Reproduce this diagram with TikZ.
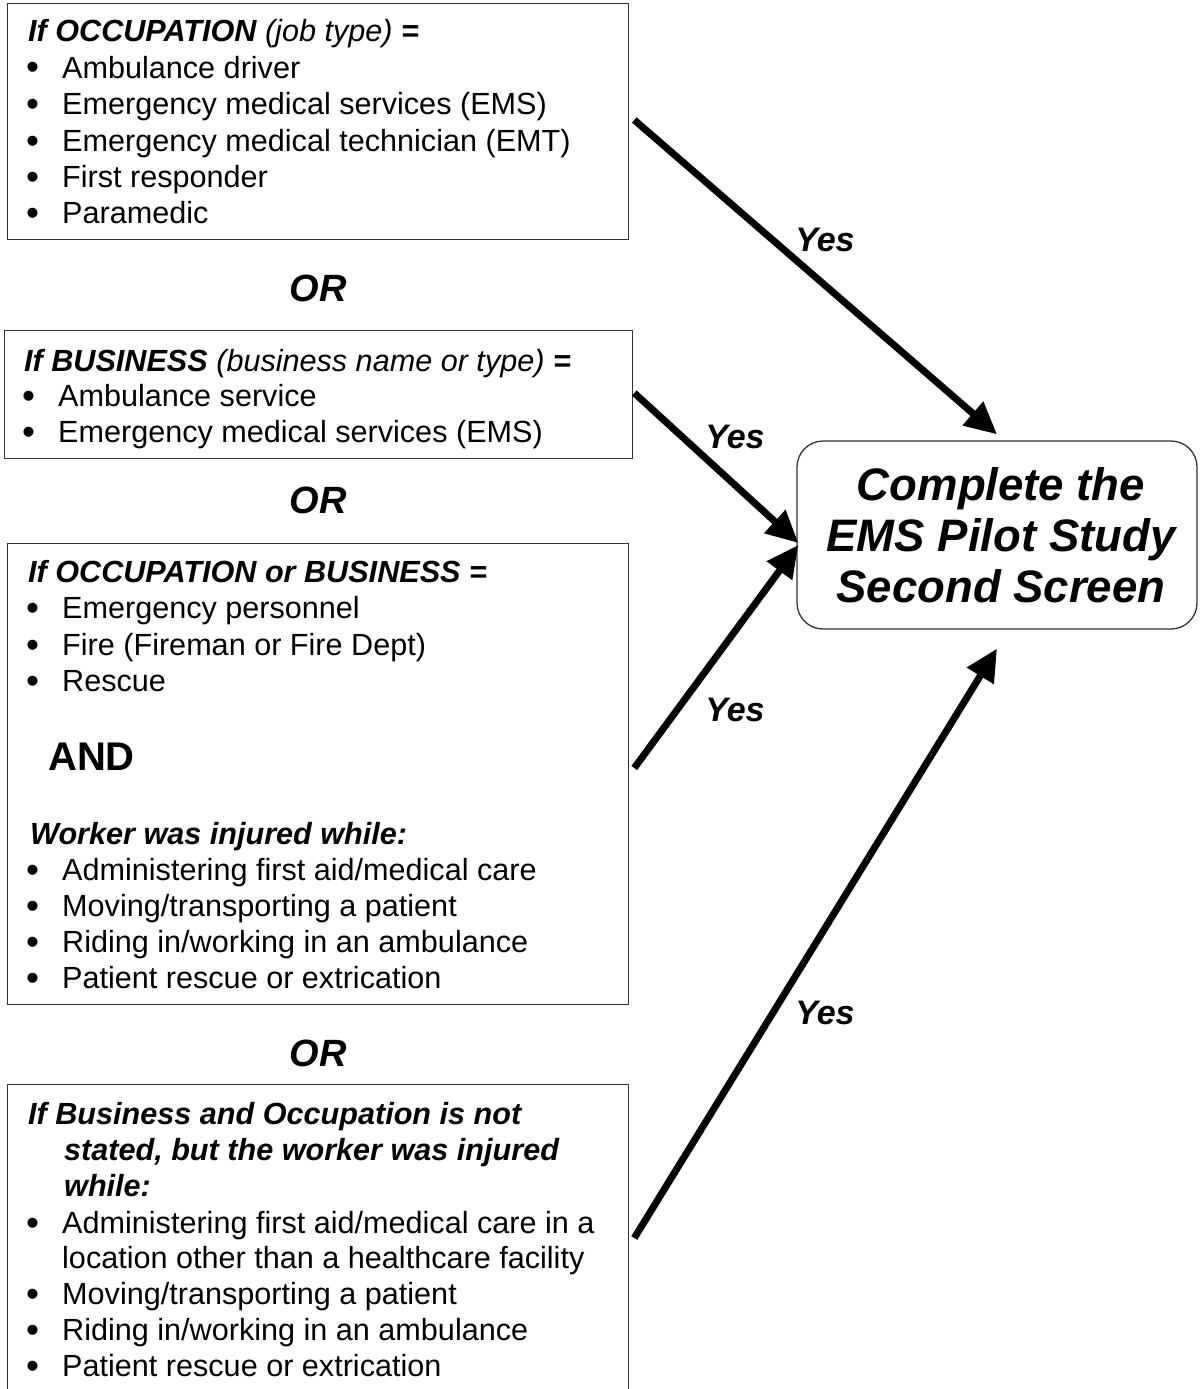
\documentclass[tikz,border=0pt]{standalone}
\usepackage{fontspec}
\setmainfont{Liberation Sans}
\usetikzlibrary{arrows.meta}
\begin{document}
\begin{tikzpicture}[x=1pt,y=-1pt,
  box/.style={draw=black!80, line width=1.3pt, inner sep=0pt, anchor=north west},
  txt/.style={anchor=base west, inner sep=0pt, font=\fontsize{30.6}{36}\selectfont},
  bul/.style={anchor=base west, inner sep=0pt, font=\fontsize{37}{37}\selectfont},
  hd/.style={anchor=base west, inner sep=0pt, font=\fontsize{30.6}{36}\selectfont\bfseries\itshape},
  orlbl/.style={inner sep=0pt, font=\fontsize{38}{40}\selectfont\bfseries\itshape},
  yeslbl/.style={inner sep=0pt, font=\fontsize{34}{36}\selectfont\bfseries\itshape},
  arr/.style={line width=7pt, -{Triangle[length=32pt,width=30pt]}}
]
\useasboundingbox (0,0) rectangle (1199,1389);
\begin{scope}
\clip (0,0) rectangle (1199,1389);
% boxes
\node[box, minimum width=621pt, minimum height=236pt] (b1) at (7,3) {};
\node[box, minimum width=628pt, minimum height=128pt] (b2) at (4,330) {};
\node[box, minimum width=621pt, minimum height=461pt] (b3) at (7,543) {};
\node[box, minimum width=621pt, minimum height=320pt] (b4) at (7,1084) {};
\node[draw=black!80, line width=1.3pt, rounded corners=26pt, minimum width=400pt, minimum height=188pt,
      align=center, font=\fontsize{45.5}{51}\selectfont\bfseries\itshape] (t) at (997,535)
      {\hspace*{8pt}Complete the\\\hspace*{8pt}EMS Pilot Study\\\hspace*{8pt}Second Screen};
\end{scope}

% box 1
\node[hd] (h1) at (28,42) {If OCCUPATION \textmd{(job type)} =};
\node[bul] (p11) at (26,80) {•}; \node[txt] (t11) at (62,78) {Ambulance driver};
\node[bul] (p12) at (26,116) {•}; \node[txt] (t12) at (62,114) {Emergency medical services (EMS)};
\node[bul] (p13) at (26,153) {•}; \node[txt] (t13) at (62,151) {Emergency medical technician (EMT)};
\node[bul] (p14) at (26,189) {•}; \node[txt] (t14) at (62,187) {First responder};
\node[bul] (p15) at (26,225) {•}; \node[txt] (t15) at (62,223) {Paramedic};

\node[orlbl] (or1) at (318,288) {OR};

% box 2
\node[hd] (h2) at (24,371) {If BUSINESS \textmd{(business name or type)} =};
\node[bul] (p21) at (22,408) {•}; \node[txt] (t21) at (58,406) {Ambulance service};
\node[bul] (p22) at (22,444) {•}; \node[txt] (t22) at (58,442) {Emergency medical services (EMS)};

\node[orlbl] (or2) at (318,500) {OR};

% box 3
\node[hd] (h3) at (28,582) {If OCCUPATION or BUSINESS =};
\node[bul] (p31) at (26,620) {•}; \node[txt] (t31) at (62,618) {Emergency personnel};
\node[bul] (p32) at (26,657) {•}; \node[txt] (t32) at (62,655) {Fire (Fireman or Fire Dept)};
\node[bul] (p33) at (26,693) {•}; \node[txt] (t33) at (62,691) {Rescue};
\node[anchor=base west, inner sep=0pt, font=\fontsize{40}{42}\selectfont\bfseries] (and) at (48,770) {AND};
\node[hd] (w3) at (30,844) {Worker was injured while:};
\node[bul] (p34) at (26,882) {•}; \node[txt] (t34) at (62,880) {Administering first aid/medical care};
\node[bul] (p35) at (26,918) {•}; \node[txt] (t35) at (62,916) {Moving/transporting a patient};
\node[bul] (p36) at (26,954) {•}; \node[txt] (t36) at (62,952) {Riding in/working in an ambulance};
\node[bul] (p37) at (26,990) {•}; \node[txt] (t37) at (62,988) {Patient rescue or extrication};

\node[orlbl] (or3) at (318,1053) {OR};

% box 4
\node[hd] (h41) at (28,1124) {If Business and Occupation is not};
\node[hd] (h42) at (64,1160) {stated, but the worker was injured};
\node[hd] (h43) at (64,1196) {while:};
\node[bul] (p41) at (26,1235) {•}; \node[txt] (t41) at (62,1233) {Administering first aid/medical care in a};
\node[txt] (t41b) at (62,1268) {location other than a healthcare facility};
\node[bul] (p42) at (26,1306) {•}; \node[txt] (t42) at (62,1304) {Moving/transporting a patient};
\node[bul] (p43) at (26,1342) {•}; \node[txt] (t43) at (62,1340) {Riding in/working in an ambulance};
\node[bul] (p44) at (26,1378) {•}; \node[txt] (t44) at (62,1376) {Patient rescue or extrication};

% arrows
\draw[arr] ([shift={(5,117)}]b1.north east) -- ([shift={(0,-6)}]t.north);
\draw[arr] ([shift={(1,63)}]b2.north east) -- ([shift={(2,8)}]t.west);
\draw[arr] ([shift={(5,225)}]b3.north east) -- ([shift={(2,10)}]t.west);
\draw[arr] ([shift={(5,154)}]b4.north east) -- ([shift={(0,19)}]t.south);

\node[yeslbl] (y1) at (825,240) {Yes};
\node[yeslbl] (y2) at (735,437) {Yes};
\node[yeslbl] (y3) at (735,710) {Yes};
\node[yeslbl] (y4) at (825,1013) {Yes};
\end{tikzpicture}
\end{document}
